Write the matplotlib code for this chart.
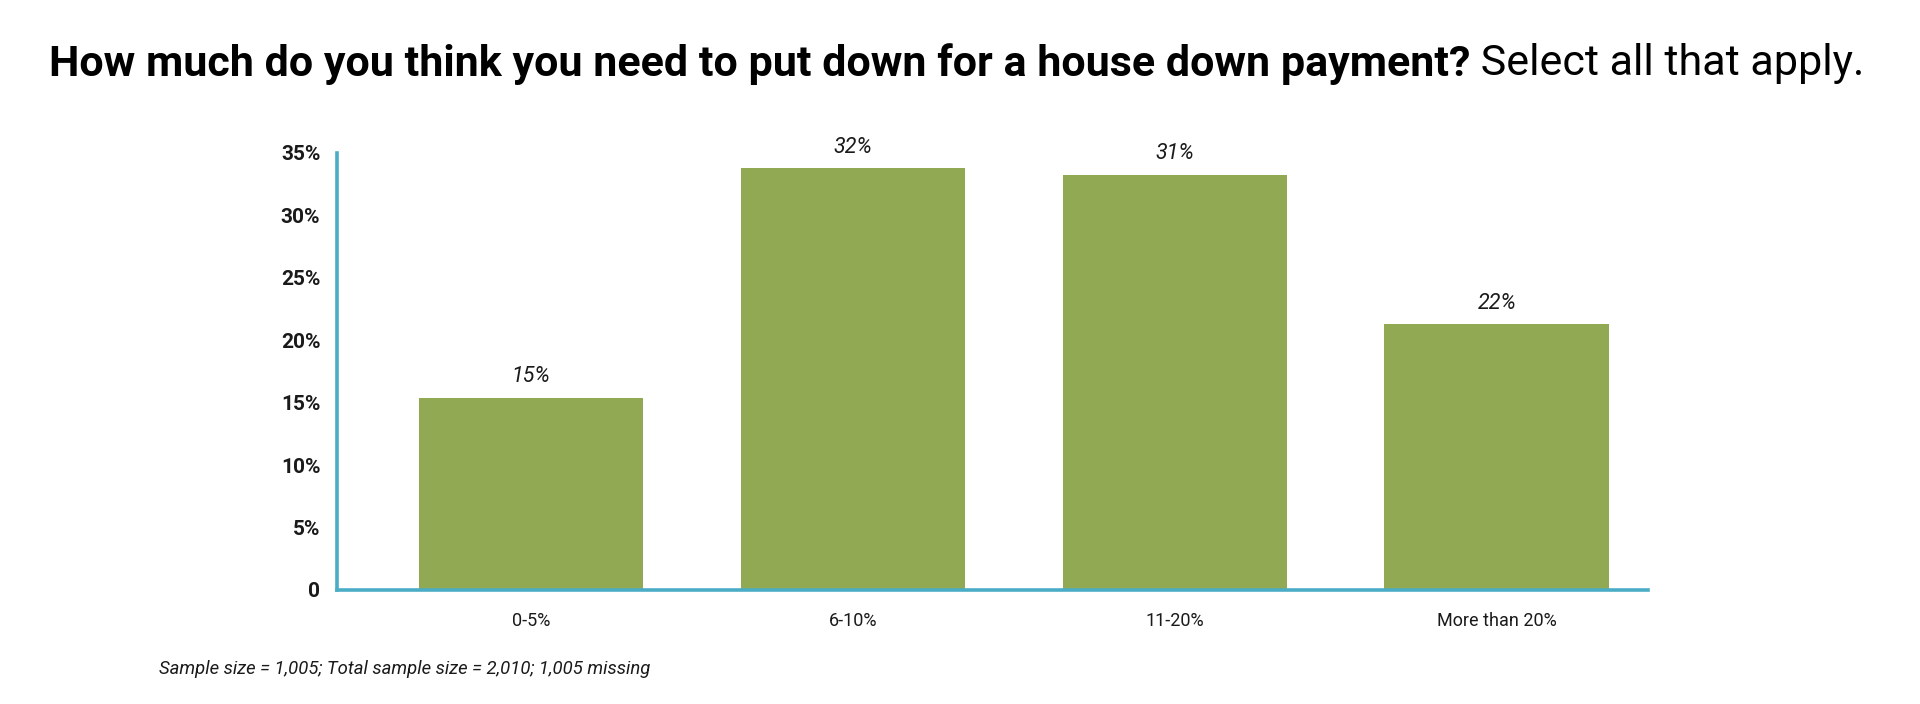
import matplotlib
matplotlib.use('agg')
import matplotlib.pyplot as plt

# data
categories = ['0-5%', '6-10%', '11-20%', 'More than 20%']
bar_heights = [15.4, 33.8, 33.25, 21.3]
value_labels = ['15%', '32%', '31%', '22%']
y_ticks = [0, 5, 10, 15, 20, 25, 30, 35]
y_tick_labels = ['0', '5%', '10%', '15%', '20%', '25%', '30%', '35%']

TITLE_BOLD = 'How much do you think you need to put down for a house down payment?'
TITLE_REGULAR = ' Select all that apply.'
FOOTNOTE = 'Sample size = 1,005; Total sample size = 2,010; 1,005 missing'

BAR_COLOR = '#92a953'
AXIS_COLOR = '#4bacc6'
TEXT_COLOR = '#1a1a1a'

plt.rcParams['font.family'] = ['Roboto', 'DejaVu Sans']

fig = plt.figure(figsize=(19.2, 7.04), dpi=100)
ax = fig.add_axes([0.1755, 0.162, 0.6828, 0.6207])

x = list(range(len(categories)))
ax.bar(x, bar_heights, width=0.697, color=BAR_COLOR, zorder=2)

for xi, h, lab in zip(x, bar_heights, value_labels):
    ax.annotate(lab, (xi, h), xytext=(0, 7.5), textcoords='offset points',
                ha='center', va='bottom', fontsize=15.5, style='italic',
                color=TEXT_COLOR)

ax.set_xlim(-0.603, 3.47)
ax.set_ylim(0, 35)
ax.set_xticks(x)
ax.set_xticklabels(categories, fontsize=13, color=TEXT_COLOR)
ax.set_yticks(y_ticks)
ax.set_yticklabels(y_tick_labels, fontsize=15, fontweight='bold', color=TEXT_COLOR)
ax.tick_params(axis='both', length=0)
ax.tick_params(axis='x', pad=16)
ax.tick_params(axis='y', pad=12)

for side in ['top', 'right']:
    ax.spines[side].set_visible(False)
for side in ['left', 'bottom']:
    ax.spines[side].set_color(AXIS_COLOR)
    ax.spines[side].set_linewidth(2.6)
    ax.spines[side].set_zorder(3)

# title: bold question followed by a regular instruction
t1 = fig.text(49 / 1920, 1 - 64 / 704, TITLE_BOLD, fontsize=31, fontweight='bold',
              ha='left', va='center', color='black')
fig.canvas.draw()
bb = t1.get_window_extent()
fig.text(bb.x1 / 1920, 1 - 64 / 704, TITLE_REGULAR, fontsize=31,
         ha='left', va='center', color='black')

fig.text(159 / 1920, 1 - 669 / 704, FOOTNOTE, fontsize=13.3, style='italic',
         ha='left', va='center', color=TEXT_COLOR)

fig.savefig('out.png', dpi=100, facecolor='white')
